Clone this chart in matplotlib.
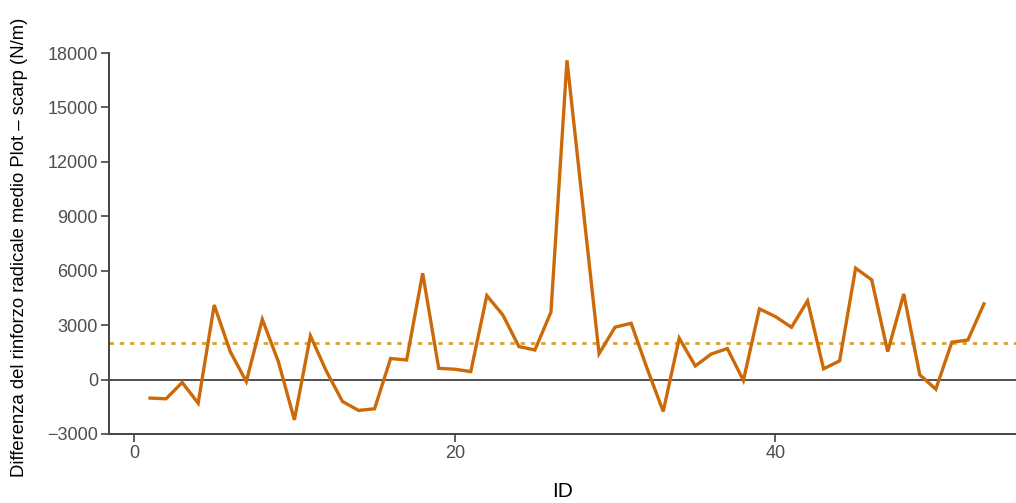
import matplotlib
matplotlib.use("Agg")
import matplotlib.pyplot as plt
import numpy as np

plt.rcParams['font.family'] = ['Liberation Sans', 'DejaVu Sans']

# Differenza del rinforzo radicale medio per ciascun ID (N/m)
ids = list(range(1, 54))
diff_values = [
    -1020, -1060, -160, -1300, 4110, 1540, -110, 3320, 990, -2220,
    2410, 450, -1210, -1700, -1610, 1160, 1080, 5860, 620, 570,
    440, 4630, 3560, 1820, 1630, 3720, 17600, 9500, 1430, 2890,
    3100, 600, -1760, 2280, 750, 1410, 1710, -50, 3900, 3470,
    2880, 4340, 590, 1030, 6140, 5500, 1540, 4720, 260, -530,
    2060, 2180, 4170,
]
mean_value = 2040

y_ticks = [-3000, 0, 3000, 6000, 9000, 12000, 15000, 18000]
x_ticks = [0, 20, 40]

fig = plt.figure(figsize=(10.16, 5.03), dpi=100)
ax = fig.add_axes([0.1073, 0.1372, 0.8927, 0.7574])

ax.axhline(0, color='#333333', lw=1.2, zorder=1)
ax.axhline(mean_value, color='#D6A232', lw=2.0, linestyle=(0, (1.6, 2.1)), zorder=2)
ax.plot(ids, diff_values, color='#CC6A0A', lw=2.4, solid_joinstyle='miter', zorder=3)

ax.set_xlim(-1.56, 55)
ax.set_ylim(-3000, 18000)
ax.set_yticks(y_ticks)
ax.set_xticks(x_ticks)
ax.set_yticklabels([str(v).replace('-', '\u2212') for v in y_ticks])

for side in ('top', 'right'):
    ax.spines[side].set_visible(False)
for side in ('left', 'bottom'):
    ax.spines[side].set_color('#444444')
    ax.spines[side].set_linewidth(1.4)

ax.tick_params(axis='both', colors='#444444', length=6, width=1.2,
               labelsize=13, labelcolor='#4D4D4D', pad=2)

ax.set_xlabel('ID', fontsize=15, color='black', labelpad=14)
ax.set_ylabel('Differenza del rinforzo radicale medio Plot \u2013 scarp (N/m)',
              fontsize=13.3, color='black')
ax.yaxis.set_label_coords(-0.089, 0.49)

fig.savefig('out.png', dpi=100)
